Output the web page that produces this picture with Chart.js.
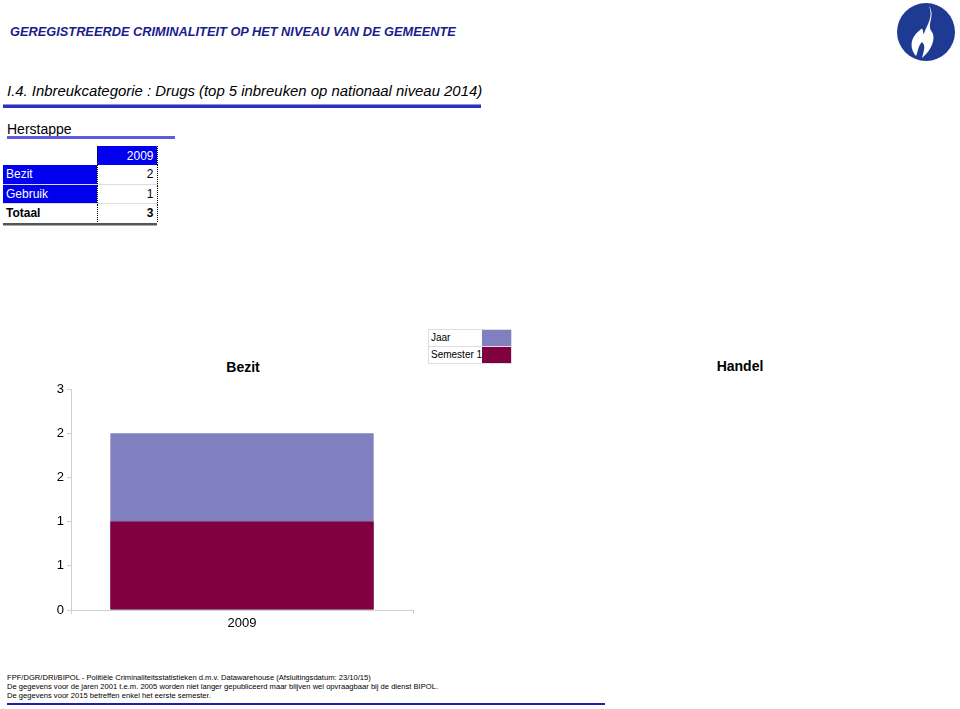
<!DOCTYPE html>
<html><head><meta charset="utf-8">
<script src="https://cdn.jsdelivr.net/npm/chart.js@4/dist/chart.umd.min.js"></script>
<style>
body{margin:0;width:960px;height:709px;position:relative;background:#fff;font-family:"Liberation Sans",Arial,sans-serif;overflow:hidden}
.abs{position:absolute;white-space:nowrap}
#t1{left:10px;top:24px;font-size:12.8px;font-weight:bold;font-style:italic;color:#1c1c8c}
#t2{left:7px;top:83px;font-size:14.9px;font-style:italic;color:#000}
#l2{left:3px;top:104px;width:478px;height:3px;background:#3030c0;border-top:1px solid #9090e0}
#t3{left:7px;top:121px;font-size:14px;color:#000}
#l3{left:7px;top:136px;width:168px;height:3px;background:#5c5ce0}
table{position:absolute;left:3px;top:146px;border-collapse:collapse;font-size:12px}
td{height:19px;padding:0 3px;box-sizing:border-box}
.blue{background:#0000ee;color:#fff}
.c2{width:60px;text-align:right;border-left:1px dotted #000;border-right:1px dotted #000}
.row td{border-bottom:1px solid #ddd}
#tl{left:3px;top:223px;width:154px;height:2px;background:#555;border-bottom:1px solid #aaa}
#legend{left:428px;top:329px;font-size:10px}
#legend .r{height:16px;line-height:16px;width:82px;display:flex;border:1px solid #ddd}
#legend .lb{flex:1;padding-left:2px}
#legend .sw{width:29px}
#cap1{left:0;top:359px;width:486px;text-align:center;font-size:14px;font-weight:bold}
#cap2{left:680px;top:358px;width:120px;text-align:center;font-size:14px;font-weight:bold}
#foot{left:7px;top:673px;font-size:7.6px;line-height:9px;color:#000}
#lf{left:7px;top:703px;width:598px;height:2px;background:#2020b0}
#chartwrap{position:absolute;left:0;top:370px;width:430px;height:270px}
</style></head><body>
<div class="abs" id="t1">GEREGISTREERDE CRIMINALITEIT OP HET NIVEAU VAN DE GEMEENTE</div>
<svg class="abs" style="left:896px;top:2px" width="60" height="60" viewBox="0 0 60 60">
<circle cx="30" cy="30" r="29" fill="#1f3a93"/>
<path d="M33 4 C40 14 30 22 36 30 C40 36 36 48 26 56 C28 48 30 44 26 40 C22 44 22 50 20 54 C12 44 16 34 24 28 C28 24 26 30 28 32 C30 24 38 16 33 4 Z" fill="#fff"/>
</svg>
<div class="abs" id="t2">I.4. Inbreukcategorie : Drugs (top 5 inbreuken op nationaal niveau 2014)</div>
<div class="abs" id="l2"></div>
<div class="abs" id="t3">Herstappe</div>
<div class="abs" id="l3"></div>
<table>
<tr><td style="width:94px"></td><td class="c2 blue">2009</td></tr>
<tr class="row"><td class="blue">Bezit</td><td class="c2">2</td></tr>
<tr class="row"><td class="blue">Gebruik</td><td class="c2">1</td></tr>
<tr><td style="font-weight:bold">Totaal</td><td class="c2" style="font-weight:bold">3</td></tr>
</table>
<div class="abs" id="tl"></div>
<div class="abs" id="legend">
<div class="r"><span class="lb">Jaar</span><span class="sw" style="background:#8080c0"></span></div>
<div class="r" style="border-top:none"><span class="lb">Semester 1</span><span class="sw" style="background:#800040"></span></div>
</div>
<div class="abs" id="cap1">Bezit</div>
<div class="abs" id="cap2">Handel</div>
<div id="chartwrap"><canvas id="c" width="430" height="270"></canvas></div>
<div class="abs" id="foot">FPF/DGR/DRI/BIPOL - Politiële Criminaliteitsstatistieken d.m.v. Datawarehouse (Afsluitingsdatum: 23/10/15)<br>De gegevens voor de jaren 2001 t.e.m. 2005 worden niet langer gepubliceerd maar blijven wel opvraagbaar bij de dienst BIPOL.<br>De gegevens voor 2015 betreffen enkel het eerste semester.</div>
<div class="abs" id="lf"></div>
<script>
const categories = ["2009"];
const jaarValues = [2];
const semester1Values = [1];
const yTicks = [0, 0.5, 1, 1.5, 2, 2.5];

new Chart(document.getElementById('c'), {
  type: 'bar',
  data: {
    labels: categories,
    datasets: [
      {label: 'Jaar', data: jaarValues, backgroundColor: '#8080c0', grouped: false, order: 2,
       categoryPercentage: 1, barPercentage: 0.77},
      {label: 'Semester 1', data: semester1Values, backgroundColor: '#800040', grouped: false, order: 1,
       categoryPercentage: 1, barPercentage: 0.77}
    ]
  },
  options: {
    responsive: false, animation: false, devicePixelRatio: 1,
    layout: {padding: {top: 19, right: 17, left: 0, bottom: 0}},
    plugins: {legend: {display: false}, tooltip: {enabled: false}},
    scales: {
      x: {
        offset: true,
        grid: {offset: true, drawOnChartArea: false, tickLength: 4, color: '#d0d0d0'},
        border: {color: '#d0d0d0'},
        ticks: {color: '#000', font: {family: 'Liberation Sans', size: 13}, padding: 2},
        afterFit: s => { s.height = 30; }
      },
      y: {
        min: 0, max: 2.5,
        afterBuildTicks: s => { s.ticks = yTicks.map(v => ({value: v})); },
        grid: {drawOnChartArea: false, tickLength: 4, color: '#d0d0d0'},
        border: {color: '#d0d0d0'},
        ticks: {color: '#000', font: {family: 'Liberation Sans', size: 13}, padding: 3,
                callback: v => Math.round(v).toString()},
        afterFit: s => { s.width = 71; }
      }
    }
  }
});
</script>
</body></html>
